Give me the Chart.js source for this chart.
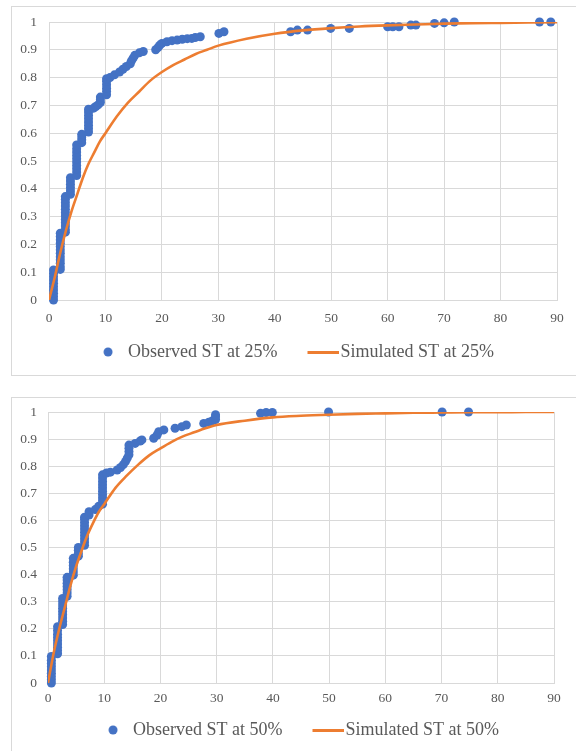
<!DOCTYPE html>
<html>
<head>
<meta charset="utf-8">
<script src="https://cdn.jsdelivr.net/npm/chart.js@4"></script>
<style>
  html, body { margin: 0; padding: 0; background: #fff; overflow: hidden; width: 576px; height: 751px; }
  .box { position: absolute; border: 1px solid #d9d9d9; background: #fff; }
  #box1 { left: 11px; top: 6px; width: 620px; height: 368px; }
  #box2 { left: 11px; top: 397px; width: 620px; height: 400px; }
  canvas { position: absolute; top: 0; }
  #chart25 { left: -2px; }
  #chart50 { left: 0; }
</style>
</head>
<body>
<div class="box" id="box1"><canvas id="chart25" width="568" height="367"></canvas></div>
<div class="box" id="box2"><canvas id="chart50" width="574" height="360"></canvas></div>
<script>
// observed ST at 25% (empirical cumulative share)
const obs25X = [
  0.8, 0.8, 0.8, 0.8, 0.8, 0.8, 0.8, 0.8, 0.8, 0.8,
  2.0, 2.0, 2.0, 2.0, 2.0, 2.0, 2.0, 2.0, 2.0, 2.0, 2.0, 2.0,
  2.9, 2.9, 2.9, 2.9, 2.9, 2.9, 2.9, 2.9, 2.9, 2.9, 2.9, 2.9,
  3.8, 3.8, 3.8, 3.8, 3.8, 3.8,
  4.9, 4.9, 4.9, 4.9, 4.9, 4.9, 4.9, 4.9, 4.9, 4.9,
  5.8, 5.8, 5.8, 5.8,
  7.0, 7.0, 7.0, 7.0, 7.0, 7.0, 7.0, 7.0,
  7.9, 8.3, 8.7,
  9.1, 9.1, 9.1,
  10.2, 10.2, 10.2, 10.2, 10.2, 10.2,
  10.8, 11.6, 12.5, 13.1, 13.7, 14.4, 14.6, 14.9, 15.2, 16.0, 16.7,
  18.9, 19.3, 19.6, 20.0, 20.9, 21.8, 22.7, 23.6, 24.5, 25.3, 25.9, 26.8,
  30.1, 31.0, 42.8, 44.0, 45.8, 49.9, 53.2, 60.0, 60.9, 62.0, 64.1, 65.0,
  68.3, 70.0, 71.8, 86.9, 88.9
];
const obs25Y = [
  0, 0.012, 0.024, 0.036, 0.048, 0.06, 0.072, 0.084, 0.096, 0.108,
  0.11, 0.12, 0.132, 0.144, 0.156, 0.168, 0.18, 0.192, 0.204, 0.216, 0.228, 0.24,
  0.244, 0.254, 0.266, 0.278, 0.29, 0.302, 0.314, 0.326, 0.338, 0.35, 0.362, 0.372,
  0.38, 0.392, 0.404, 0.416, 0.428, 0.44,
  0.448, 0.46, 0.472, 0.484, 0.496, 0.508, 0.52, 0.532, 0.544, 0.558,
  0.566, 0.576, 0.586, 0.596,
  0.604, 0.616, 0.628, 0.64, 0.652, 0.664, 0.676, 0.686,
  0.69, 0.696, 0.702,
  0.71, 0.72, 0.73,
  0.738, 0.75, 0.762, 0.774, 0.786, 0.796,
  0.80, 0.81, 0.82, 0.83, 0.84, 0.85, 0.86, 0.87, 0.88, 0.889, 0.894,
  0.90, 0.908, 0.916, 0.923, 0.929, 0.933, 0.935, 0.938, 0.94, 0.941, 0.944, 0.947,
  0.959, 0.965, 0.965, 0.971, 0.971, 0.977, 0.977, 0.983, 0.983, 0.983, 0.989, 0.989,
  0.995, 0.997, 1.0, 1.0, 1.0
];

// observed ST at 50%
const obs50X = [
  0.6, 0.6, 0.6, 0.6, 0.6, 0.6, 0.6, 0.6, 0.6,
  1.7, 1.7, 1.7, 1.7, 1.7, 1.7, 1.7, 1.7, 1.7,
  2.6, 2.6, 2.6, 2.6, 2.6, 2.6, 2.6, 2.6, 2.6,
  3.4, 3.4, 3.4, 3.4, 3.4, 3.4, 3.4,
  4.5, 4.5, 4.5, 4.5, 4.5, 4.5,
  5.4, 5.4, 5.4, 5.4,
  6.5, 6.5, 6.5, 6.5, 6.5, 6.5, 6.5, 6.5, 6.5, 6.5,
  7.3, 7.3, 8.4, 9.0,
  9.7, 9.7, 9.7, 9.7, 9.7, 9.7, 9.7, 9.7, 9.7, 9.7,
  10.4, 11.1, 12.3, 12.9, 13.4, 13.8, 14.1,
  14.4, 14.4, 14.4, 14.4,
  15.5, 16.4, 16.7, 18.8, 19.4, 19.7, 20.6, 22.6, 23.8, 24.6, 27.7, 28.6, 29.2,
  29.8, 29.8, 29.8,
  37.8, 38.8, 39.9, 49.9, 70.1, 74.8
];
const obs50Y = [
  0, 0.012, 0.024, 0.036, 0.048, 0.06, 0.072, 0.084, 0.098,
  0.108, 0.12, 0.132, 0.144, 0.156, 0.168, 0.18, 0.194, 0.208,
  0.216, 0.228, 0.24, 0.252, 0.264, 0.276, 0.288, 0.30, 0.312,
  0.32, 0.332, 0.344, 0.356, 0.368, 0.38, 0.39,
  0.398, 0.41, 0.422, 0.434, 0.446, 0.46,
  0.468, 0.478, 0.49, 0.50,
  0.508, 0.52, 0.532, 0.544, 0.556, 0.568, 0.58, 0.592, 0.604, 0.612,
  0.62, 0.632, 0.64, 0.652,
  0.66, 0.672, 0.684, 0.696, 0.708, 0.72, 0.732, 0.744, 0.756, 0.768,
  0.775, 0.778, 0.786, 0.795, 0.806, 0.818, 0.83,
  0.842, 0.854, 0.866, 0.878,
  0.884, 0.893, 0.897, 0.903, 0.915, 0.927, 0.934, 0.94, 0.946, 0.952, 0.958, 0.962, 0.967,
  0.972, 0.982, 0.99,
  0.995, 0.998, 0.998, 1.0, 1.0, 1.0
];

// simulated curves, read at these x values
const simX = [0, 1, 2, 3, 4, 5, 6, 7, 8, 9, 10, 12, 14, 16, 18, 20, 22, 24, 26, 28, 30,
  35, 40, 45, 50, 55, 60, 65, 70, 75, 80, 85, 90];
const sim25Y = [0, 0.08, 0.17, 0.25, 0.32, 0.38, 0.44, 0.49, 0.53, 0.57, 0.60, 0.66, 0.71,
  0.75, 0.79, 0.82, 0.845, 0.865, 0.885, 0.90, 0.915, 0.94, 0.958, 0.97, 0.978, 0.984,
  0.988, 0.991, 0.994, 0.996, 0.997, 0.998, 0.999];
const sim50Y = [0, 0.11, 0.20, 0.28, 0.36, 0.43, 0.49, 0.545, 0.59, 0.63, 0.66, 0.72, 0.765,
  0.805, 0.84, 0.866, 0.89, 0.91, 0.925, 0.94, 0.952, 0.968, 0.98, 0.986, 0.99, 0.993,
  0.995, 0.997, 0.998, 0.999, 0.999, 1, 1];

const BLUE = '#4472C4';
const ORANGE = '#ED7D31';
const GRID = '#d9d9d9';
const TEXT = '#595959';
const FONT = "'Liberation Serif', 'Times New Roman', serif";

// legend swatches: the image is centred on the legend box, so the mark sits off-centre
function dotImage() {
  let c = document.createElement('canvas');
  c.width = 33; c.height = 10;
  let ctx = c.getContext('2d');
  ctx.fillStyle = BLUE;
  ctx.beginPath();
  ctx.arc(28, 5, 4.5, 0, Math.PI * 2);
  ctx.fill();
  return c;
}

function lineImage() {
  let c = document.createElement('canvas');
  c.width = 61; c.height = 3;
  let ctx = c.getContext('2d');
  ctx.fillStyle = ORANGE;
  ctx.fillRect(29, 0, 32, 3);
  return c;
}

function toPoints(xs, ys) {
  return xs.map((x, i) => ({ x: x, y: ys[i] }));
}

function makeChart(id, pct, obsX, obsY, simY, lay) {
  let dot = dotImage();
  let line = lineImage();
  return new Chart(document.getElementById(id), {
    type: 'scatter',
    data: {
      datasets: [{
        label: `Observed ST at ${pct}`,
        data: toPoints(obsX, obsY),
        backgroundColor: BLUE,
        borderColor: BLUE,
        pointRadius: 4.5,
        pointBorderWidth: 0,
        clip: false,
        order: 1
      }, {
        label: `Simulated ST at ${pct}`,
        type: 'line',
        data: toPoints(simX, simY),
        borderColor: ORANGE,
        backgroundColor: ORANGE,
        borderWidth: 2.6,
        pointRadius: 0,
        cubicInterpolationMode: 'monotone',
        fill: false,
        order: 0
      }]
    },
    options: {
      responsive: false,
      animation: false,
      layout: {
        autoPadding: false,
        padding: { top: lay.top, left: 0, right: 20, bottom: lay.bottom }
      },
      plugins: {
        tooltip: { enabled: false },
        legend: {
          position: 'bottom',
          labels: {
            usePointStyle: true,
            pointStyleWidth: 45,
            boxHeight: 8,
            padding: 9,
            color: TEXT,
            font: { family: FONT, size: 18 },
            sort: (a, b) => a.datasetIndex - b.datasetIndex,
            generateLabels: (chart) => {
              let items = Chart.defaults.plugins.legend.labels.generateLabels(chart);
              items.forEach(it => { it.pointStyle = it.datasetIndex === 0 ? dot : line; });
              return items;
            }
          }
        }
      },
      scales: {
        x: {
          type: 'linear',
          min: 0,
          max: 90,
          afterFit: (s) => { s.height = lay.xH; s.paddingLeft = 0; s.paddingRight = 0; },
          grid: { color: GRID, drawTicks: false },
          border: { color: GRID },
          ticks: { stepSize: 10, color: TEXT, padding: lay.xPad, font: { family: FONT, size: 13.5 } }
        },
        y: {
          min: 0,
          max: 1,
          afterFit: (s) => { s.width = lay.yW; s.paddingTop = 0; s.paddingBottom = 0; },
          grid: { color: GRID, drawTicks: false },
          border: { color: GRID },
          ticks: {
            stepSize: 0.1,
            color: TEXT,
            padding: lay.yPad,
            font: { family: FONT, size: 13.5 },
            callback: (v) => String(Number(v.toFixed(1)))
          }
        },
        yRight: {
          position: 'right',
          min: 0,
          max: 1,
          afterFit: (s) => { s.width = lay.rW; s.paddingTop = 0; s.paddingBottom = 0; },
          grid: { display: false },
          border: { display: false },
          ticks: { display: false }
        }
      }
    }
  });
}

makeChart('chart25', '25%', obs25X, obs25Y, sim25Y,
  { top: 15, bottom: 3, xH: 34, xPad: 10, yW: 39, yPad: 12, rW: 1 });
makeChart('chart50', '50%', obs50X, obs50Y, sim50Y,
  { top: 14, bottom: 9, xH: 29, xPad: 7, yW: 36, yPad: 11, rW: 12 });
</script>
</body>
</html>
